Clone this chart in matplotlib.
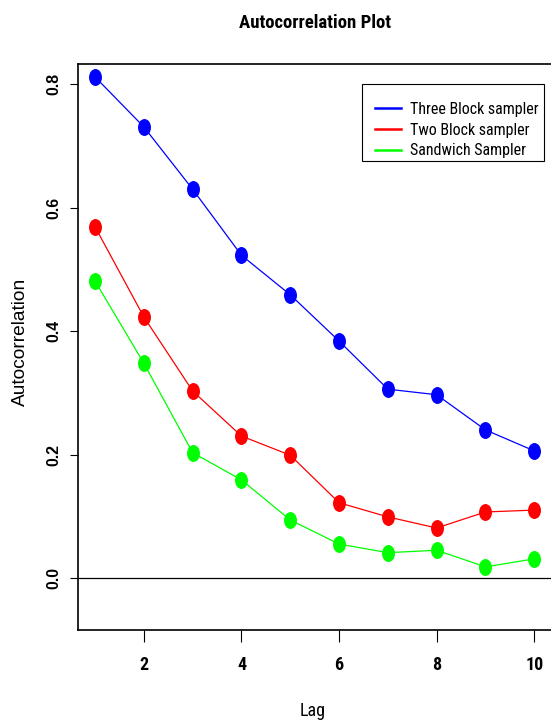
import matplotlib
matplotlib.use("Agg")
import matplotlib.pyplot as plt
import matplotlib.path as mpath
from matplotlib import font_manager
from matplotlib.patches import Rectangle
from matplotlib.lines import Line2D

# ---- data ----
lags = [1, 2, 3, 4, 5, 6, 7, 8, 9, 10]
three_block = [0.812, 0.731, 0.630, 0.523, 0.459, 0.384, 0.306, 0.297, 0.240, 0.206]
two_block = [0.569, 0.423, 0.303, 0.230, 0.199, 0.122, 0.099, 0.081, 0.107, 0.110]
sandwich = [0.481, 0.348, 0.203, 0.159, 0.094, 0.055, 0.041, 0.045, 0.018, 0.031]
series_names = ["Three Block sampler", "Two Block sampler", "Sandwich Sampler"]
series_colors = ["#0000FF", "#FF0000", "#00FF00"]
x_ticks = [2, 4, 6, 8, 10]
y_ticks = [0.0, 0.2, 0.4, 0.6, 0.8]

names = {f.name for f in font_manager.fontManager.ttflist}
REG = "Liberation Sans" if "Liberation Sans" in names else "DejaVu Sans"
NARROW = REG
for cand in ["Liberation Sans Narrow", "Roboto Condensed", "Archivo Narrow", "PT Sans Narrow"]:
    if cand in names:
        NARROW = cand
        break
NARROW_F = [NARROW, "DejaVu Sans"]
REG_F = [REG, "DejaVu Sans"]

W, H = 551, 725
fig = plt.figure(figsize=(W / 100, H / 100), dpi=100)

def fx(px):
    return px / W

def fy(py):
    return 1 - py / H

ax = fig.add_axes([fx(77.5), fy(630), fx(551.8 - 77.5), (630 - 64) / H])
ax.set_xlim(0.64, 10.36)
ax.set_ylim(-0.0843, 0.833)

ell = mpath.Path(mpath.Path.unit_circle().vertices * [13 / 17, 1],
                 mpath.Path.unit_circle().codes)

for vals, col in zip([three_block, two_block, sandwich], series_colors):
    ax.plot(lags, vals, color=col, lw=0.9, marker=ell, markersize=12.2,
            markerfacecolor=col, markeredgecolor=col, markeredgewidth=0)

ax.axhline(0, color="black", lw=0.9, zorder=0)

for s in ["left", "top", "bottom"]:
    ax.spines[s].set_linewidth(1.2)
ax.spines["right"].set_visible(False)

ax.set_xticks(x_ticks)
ax.set_xticklabels([str(t) for t in x_ticks], fontfamily=NARROW_F,
                   fontweight="bold", fontsize=13)
ax.set_yticks(y_ticks)
ax.set_yticklabels([f"{t:.1f}" for t in y_ticks], fontfamily=REG_F,
                   fontweight="bold", fontsize=11.4, rotation=90, va="center")
ax.tick_params(axis="x", direction="out", length=8.4, width=0.8, pad=10)
ax.tick_params(axis="y", direction="out", length=5.8, width=0.8, pad=6)

# titles and labels
fig.text(fx(315), fy(28.3), "Autocorrelation Plot", ha="center", va="baseline",
         fontfamily=NARROW_F, fontweight="bold", fontsize=13.5)
fig.text(fx(313), fy(716), "Lag", ha="center", va="baseline",
         fontfamily=NARROW_F, fontsize=13)
fig.text(fx(20), fy(342), "Autocorrelation", ha="center", va="center",
         rotation=90, fontfamily=REG_F, fontsize=13.8)

# legend (drawn manually)
fig.patches.append(Rectangle((fx(362), fy(161)), fx(544 - 362), (161 - 84) / H,
                             transform=fig.transFigure, fill=False,
                             edgecolor="black", lw=0.8))
row_y = [108, 129, 149.5]
for name, col, ry in zip(series_names, series_colors, row_y):
    fig.lines.append(Line2D([fx(375), fx(401)], [fy(ry), fy(ry)],
                            transform=fig.transFigure, color=col, lw=1.8))
    fig.text(fx(410), fy(ry + 6), name, ha="left", va="baseline",
             fontfamily=NARROW_F, fontsize=11.5)

fig.savefig("out.png", dpi=100)
